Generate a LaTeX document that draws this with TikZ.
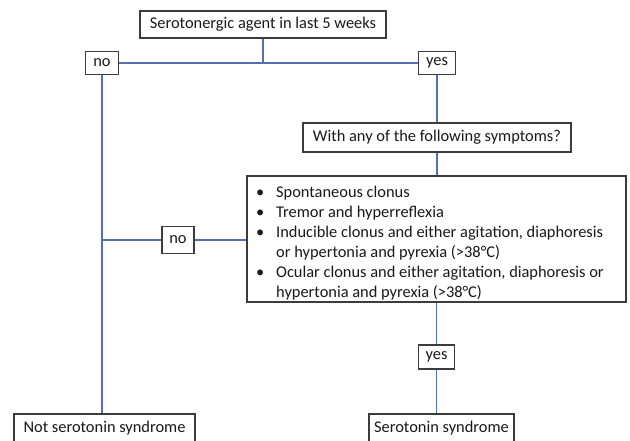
\documentclass[tikz,border=0pt]{standalone}
\usepackage{fontspec}
\setmainfont{Carlito}
\definecolor{linkblue}{RGB}{84,112,176}
\definecolor{boxline}{RGB}{60,60,60}
\definecolor{txt}{RGB}{25,25,25}
\begin{document}
\begin{tikzpicture}[x=1pt,y=-1pt,
  box/.style={draw=boxline, line width=1.1pt, fill=white, inner sep=0pt, text=txt,
    font=\fontsize{16.4}{20}\selectfont},
  conn/.style={draw=linkblue, line width=1.8pt}]
\useasboundingbox (0,0) rectangle (630,440);
\fill[white] (0,0) rectangle (630,440);
% nodes
\node[box, minimum width=246pt, minimum height=27pt] (top) at (263,24.5) {Serotonergic agent in last 5 weeks};
\node[box, minimum width=33pt, minimum height=23pt] (no1) at (102,63) {no};
\node[box, minimum width=37pt, minimum height=23pt] (yes1) at (437,63) {yes};
\coordinate (j1) at (263,63);
\node[box, minimum width=268pt, minimum height=29pt] (with) at (437,137.5) {With any of the following symptoms?};
\node[box, minimum width=379pt, minimum height=126pt] (sym) at (436.5,239) {};
\node[anchor=base west, inner sep=0pt, text=txt, font=\fontsize{16.4}{20}\selectfont] (list) at (256,197) {%
\begin{tabular}[t]{@{}l@{}l@{}}
\makebox[20pt][l]{•} & Spontaneous clonus\\
\makebox[20pt][l]{•} & Tremor and hyperreflexia\\
\makebox[20pt][l]{•} & Inducible clonus and either agitation, diaphoresis\\
 & or hypertonia and pyrexia (>38°C)\\
\makebox[20pt][l]{•} & Ocular clonus and either agitation, diaphoresis or\\
 & hypertonia and pyrexia (>38°C)
\end{tabular}};
\node[box, minimum width=32pt, minimum height=27pt] (no2) at (178,240) {no};
\node[box, minimum width=36pt, minimum height=24pt] (yes2) at (436.5,357) {yes};
\node[box, minimum width=181pt, minimum height=28pt] (not) at (104.5,428) {Not serotonin syndrome};
\node[box, minimum width=145pt, minimum height=28pt] (ser) at (441.5,428) {Serotonin syndrome};
% connectors
\draw[conn] (top.south) -- (j1);
\draw[conn] (no1.east) -- (yes1.west);
\draw[conn] (yes1.south) -- (with.north);
\draw[conn] (with.south) -- (with.south |- sym.north);
\draw[conn] (no1.south) -- (no1.south |- not.north);
\coordinate (j2) at (no1.south |- no2.west);
\draw[conn] (j2) -- (no2.west);
\draw[conn] (no2.east) -- (no2.east -| sym.west);
\draw[conn] (sym.south -| yes2.north) -- (yes2.north);
\draw[conn] (yes2.south) -- (yes2.south |- ser.north);
\end{tikzpicture}
\end{document}
